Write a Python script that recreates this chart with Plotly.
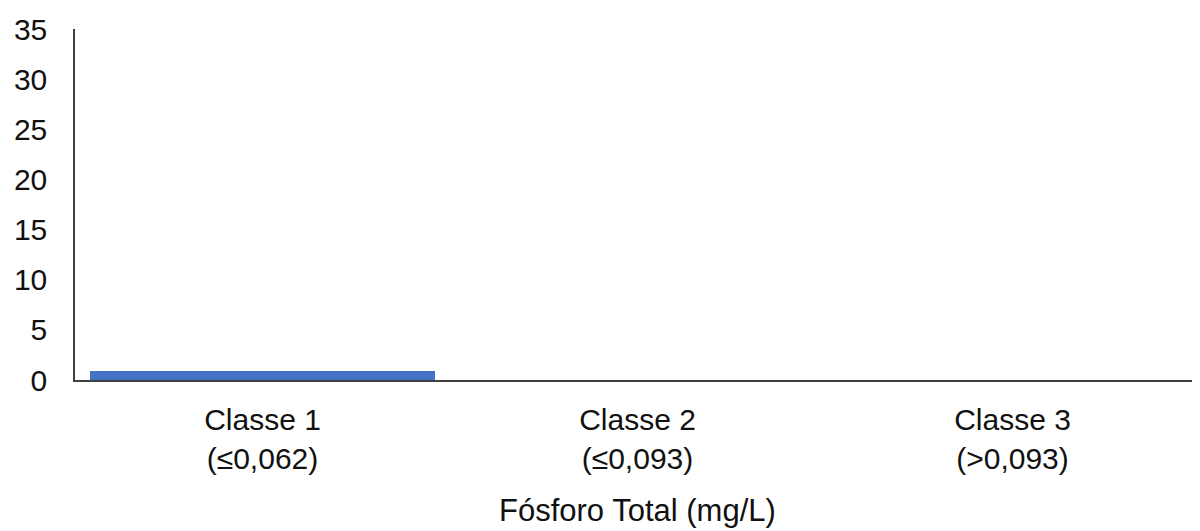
import plotly.graph_objects as go

# data
categories = ["Classe 1<br>(≤0,062)", "Classe 2<br>(≤0,093)", "Classe 3<br>(>0,093)"]
values = [0.9, 0, 0]
y_ticks = [0, 5, 10, 15, 20, 25, 30, 35]
x_title = "Fósforo Total (mg/L)"

font = dict(family="Arial", size=30, color="#111111")

fig = go.Figure()
fig.add_trace(go.Bar(x=categories, y=values, marker=dict(color="#4472C4", line=dict(width=0))))

# page has 8px body margin, so offsets are compensated here
fig.update_layout(
    width=1192, height=523,
    margin=dict(l=67, r=0, t=21, b=151, autoexpand=False),
    plot_bgcolor="white", paper_bgcolor="white",
    showlegend=False, bargap=0.08,
    font=font,
)
# axis title as annotation so it can sit as low as in the original
fig.add_annotation(
    text=x_title, xref="paper", yref="paper", x=0.5, y=-0.372,
    xanchor="center", yanchor="middle", showarrow=False,
    font=dict(family="Arial", size=31, color="#111111"),
)
fig.update_xaxes(
    showline=True, linecolor="#404040", linewidth=1.5,
    showgrid=False, ticks="", ticklabelstandoff=12, automargin=False,
)
fig.update_yaxes(
    range=[0, 35], tickvals=y_ticks, showline=True, linecolor="#404040", linewidth=1.5,
    showgrid=False, zeroline=False, ticks="", ticklabelstandoff=20, automargin=False,
)

fig.write_html("out.html")
